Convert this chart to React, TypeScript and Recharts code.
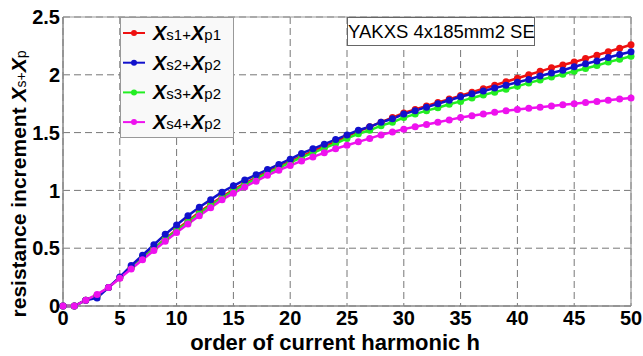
import React from 'react';
import { LineChart, Line, XAxis, YAxis, CartesianGrid, ReferenceLine } from 'recharts';

const harmonics = Array.from({ length: 51 }, (_, i) => i);

const xs1p1 = [0, 0, 0.05, 0.09, 0.16, 0.245, 0.33, 0.415, 0.5, 0.58, 0.66, 0.735, 0.81, 0.88, 0.945, 1.005, 1.06, 1.11, 1.16, 1.205, 1.25, 1.295, 1.34, 1.38, 1.42, 1.47, 1.51, 1.55, 1.59, 1.63, 1.67, 1.7, 1.73, 1.76, 1.79, 1.82, 1.85, 1.88, 1.91, 1.94, 1.97, 2.0, 2.03, 2.06, 2.085, 2.11, 2.14, 2.17, 2.2, 2.23, 2.26];
const xs2p2 = [0, 0, 0.05, 0.07, 0.16, 0.25, 0.35, 0.44, 0.53, 0.62, 0.7, 0.78, 0.855, 0.92, 0.985, 1.04, 1.09, 1.135, 1.18, 1.225, 1.27, 1.32, 1.36, 1.4, 1.44, 1.48, 1.52, 1.55, 1.59, 1.62, 1.66, 1.69, 1.72, 1.75, 1.78, 1.81, 1.835, 1.86, 1.885, 1.91, 1.935, 1.96, 1.99, 2.015, 2.04, 2.07, 2.095, 2.12, 2.15, 2.175, 2.2];
const xs3p2 = [0, 0, 0.05, 0.09, 0.16, 0.245, 0.33, 0.41, 0.495, 0.575, 0.65, 0.725, 0.8, 0.87, 0.935, 0.995, 1.05, 1.1, 1.15, 1.195, 1.24, 1.285, 1.325, 1.365, 1.405, 1.45, 1.49, 1.52, 1.56, 1.59, 1.63, 1.66, 1.69, 1.715, 1.745, 1.77, 1.8, 1.825, 1.85, 1.875, 1.9, 1.93, 1.955, 1.98, 2.005, 2.03, 2.055, 2.08, 2.11, 2.135, 2.16];
const xs4p2 = [0, 0, 0.05, 0.1, 0.16, 0.24, 0.32, 0.4, 0.48, 0.56, 0.635, 0.71, 0.78, 0.85, 0.92, 0.975, 1.03, 1.08, 1.13, 1.175, 1.215, 1.255, 1.29, 1.325, 1.36, 1.39, 1.42, 1.45, 1.48, 1.505, 1.53, 1.55, 1.57, 1.59, 1.61, 1.63, 1.645, 1.66, 1.675, 1.69, 1.7, 1.71, 1.72, 1.73, 1.74, 1.75, 1.76, 1.77, 1.78, 1.79, 1.8];

const xTicks = [0, 5, 10, 15, 20, 25, 30, 35, 40, 45, 50];
const yTicks = [0, 0.5, 1, 1.5, 2, 2.5];

const seriesMeta = [
  { key: 's1p1', color: '#ee1111', sub1: 's1+', sub2: 'p1' },
  { key: 's2p2', color: '#1111cc', sub1: 's2+', sub2: 'p2' },
  { key: 's3p2', color: '#22ee22', sub1: 's3+', sub2: 'p2' },
  { key: 's4p2', color: '#ee11ee', sub1: 's4+', sub2: 'p2' },
];

const data = harmonics.map((h, i) => ({
  h,
  s1p1: xs1p1[i],
  s2p2: xs2p2[i],
  s3p2: xs3p2[i],
  s4p2: xs4p2[i],
}));

const FONT = '"Liberation Sans", Arial, Helvetica, sans-serif';

const LegendBox = () => (
  <svg width={114} height={121} style={{ display: 'block' }}>
    <rect x={0.5} y={0.5} width={113} height={120} fill="#f9f9f9" stroke="#999" />
    {seriesMeta.map((s, i) => {
      const y = 16 + i * 29.7;
      return (
        <g key={s.key}>
          <line x1={3} x2={25} y1={y} y2={y} stroke={s.color} strokeWidth={2} />
          <circle cx={14} cy={y} r={3} fill={s.color} />
          <text x={33} y={y + 7} fontFamily={FONT} fill="#000">
            <tspan fontSize={20} fontWeight="bold" fontStyle="italic">X</tspan>
            <tspan fontSize={15}>{s.sub1}</tspan>
            <tspan fontSize={20} fontWeight="bold" fontStyle="italic">X</tspan>
            <tspan fontSize={15}>{s.sub2}</tspan>
          </text>
        </g>
      );
    })}
  </svg>
);

const YLabel = () => (
  <text
    transform="translate(26,184) rotate(-90)"
    textAnchor="middle"
    fontFamily={FONT}
    fontWeight="bold"
    fill="#000"
  >
    <tspan fontSize={21}>resistance increment </tspan>
    <tspan fontSize={21} fontStyle="italic">X</tspan>
    <tspan fontSize={14} fontWeight="normal">s+</tspan>
    <tspan fontSize={21} fontStyle="italic">X</tspan>
    <tspan fontSize={14} fontWeight="normal">p</tspan>
  </text>
);

const XLabel = () => (
  <text
    x={335}
    y={350}
    textAnchor="middle"
    fontFamily={FONT}
    fontWeight="bold"
    fontSize={22}
    fill="#000"
  >
    order of current harmonic h
  </text>
);

export default function App() {
  return (
    <div style={{ position: 'absolute', left: 0, top: 0, width: 643, height: 356, background: '#fff' }}>
      <LineChart
        width={643}
        height={356}
        data={data}
        margin={{ top: 17, right: 12, left: 0, bottom: 0 }}
      >
        <CartesianGrid stroke="#777" strokeDasharray="7 4" strokeWidth={1} />
        <XAxis
          dataKey="h"
          type="number"
          domain={[0, 50]}
          ticks={xTicks}
          height={50}
          tickLine={false}
          tickSize={4}
          tickMargin={1}
          axisLine={{ stroke: '#888', strokeWidth: 1.5 }}
          tick={{ fill: '#000', fontSize: 20, fontWeight: 'bold', fontFamily: FONT }}
          interval={0}
          label={{ content: () => <XLabel /> }}
        />
        <YAxis
          type="number"
          domain={[0, 2.5]}
          ticks={yTicks}
          width={63}
          tickLine={false}
          tickSize={3}
          tickMargin={0}
          axisLine={{ stroke: '#888', strokeWidth: 1.5 }}
          tick={{ fill: '#000', fontSize: 20, fontWeight: 'bold', fontFamily: FONT }}
          interval={0}
          label={{ content: () => <YLabel /> }}
        />
        <ReferenceLine y={2.5} stroke="#999" strokeWidth={1.2} />
        <ReferenceLine x={50} stroke="#999" strokeWidth={1.2} />
        {[seriesMeta[0], seriesMeta[2], seriesMeta[1], seriesMeta[3]].map((s) => (
          <Line
            key={s.key}
            type="linear"
            dataKey={s.key}
            stroke={s.color}
            strokeWidth={2.5}
            dot={{ r: 3.5, fill: s.color, stroke: s.color, strokeWidth: 0 }}
            isAnimationActive={false}
          />
        ))}
      </LineChart>
      <div style={{ position: 'absolute', left: 120, top: 17 }}>
        <LegendBox />
      </div>
      <div
        style={{
          position: 'absolute',
          left: 347,
          top: 17,
          width: 186,
          height: 27,
          border: '1px solid #666',
          background: '#fff',
          fontFamily: FONT,
          fontSize: 18.5,
          lineHeight: '27px',
          textAlign: 'center',
          whiteSpace: 'nowrap',
          color: '#000',
        }}
      >
        YAKXS 4x185mm2 SE
      </div>
    </div>
  );
}
